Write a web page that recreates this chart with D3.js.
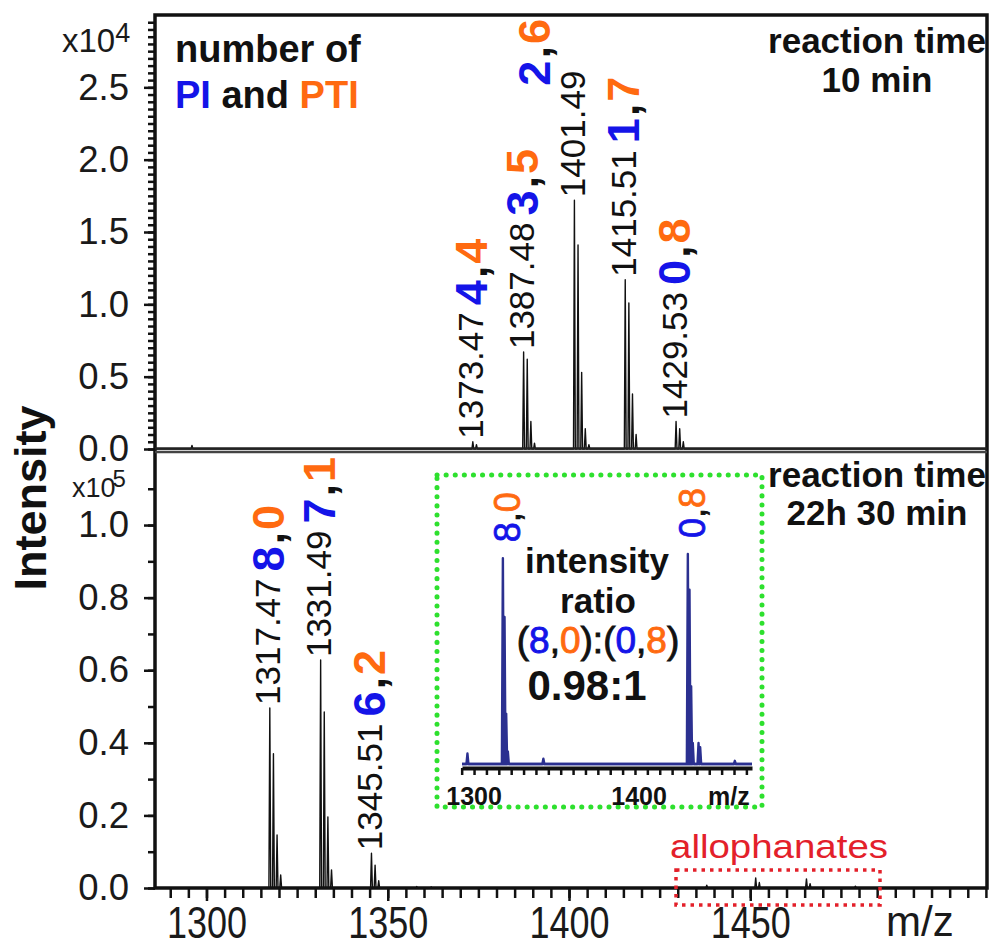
<!DOCTYPE html>
<html>
<head>
<meta charset="utf-8">
<script src="https://cdn.jsdelivr.net/npm/d3@7"></script>
<style>
    body { margin: 0; background: #fff; }
    svg { display: block; font-family: "Liberation Sans", Arial, Helvetica, sans-serif; }
</style>
</head>
<body>
<svg id="chart" width="992" height="947"></svg>
<script>

// sticks: [m/z, intensity]
// reaction time 10 min, intensity x10^4
const spectrum10min = [
    [1296.0, 0.025],
    [1373.47, 0.05], [1374.47, 0.03],
    [1387.48, 0.67], [1388.48, 0.62], [1389.48, 0.19], [1390.48, 0.04],
    [1401.49, 1.72], [1402.49, 1.41], [1403.49, 0.53], [1404.49, 0.14], [1405.49, 0.03],
    [1415.51, 1.17], [1416.51, 1.01], [1417.51, 0.38], [1418.51, 0.10],
    [1429.53, 0.19], [1430.53, 0.14], [1431.53, 0.05]
];

// reaction time 22h 30 min, intensity x10^5
const spectrum22h = [
    [1317.47, 0.496], [1318.47, 0.37], [1319.47, 0.146], [1320.47, 0.036],
    [1331.49, 0.628], [1332.49, 0.485], [1333.49, 0.196], [1334.49, 0.05],
    [1345.51, 0.096], [1346.51, 0.063], [1347.51, 0.02],
    [1358.0, 0.004], [1362.0, 0.003],
    [1438.0, 0.008], [1451.5, 0.028], [1452.5, 0.015],
    [1465.5, 0.025], [1466.5, 0.012], [1479.0, 0.005]
];

// inset, normalised to the (0,8) peak
const insetSpectrum = [
    [1296.0, 0.05],
    [1317.47, 0.98], [1318.47, 0.70], [1319.47, 0.24], [1320.47, 0.06],
    [1342.0, 0.025],
    [1429.53, 1.0], [1430.53, 0.83], [1431.53, 0.37], [1432.53, 0.10],
    [1436.0, 0.10], [1437.0, 0.08],
    [1458.0, 0.015]
];

const peaks10min = [
    {mz: 1373.47, pi: 4, pti: 4},
    {mz: 1387.48, pi: 3, pti: 5},
    {mz: 1401.49, pi: 2, pti: 6},
    {mz: 1415.51, pi: 1, pti: 7},
    {mz: 1429.53, pi: 0, pti: 8}
];
const peaks22h = [
    {mz: 1317.47, pi: 8, pti: 0},
    {mz: 1331.49, pi: 7, pti: 1},
    {mz: 1345.51, pi: 6, pti: 2}
];
const insetPeaks = [
    {mz: 1317.47, pi: 8, pti: 0},
    {mz: 1429.53, pi: 0, pti: 8}
];

const yTicksTop = [0, 0.5, 1.0, 1.5, 2.0, 2.5];
const yTicksBottom = [0, 0.2, 0.4, 0.6, 0.8, 1.0];
const xTicks = [1300, 1350, 1400, 1450];
const insetXTicks = [1300, 1400];

const BLUE = '#1414e8';
const ORANGE = '#ff6a10';
const INK = '#111';
const NAVY = '#2b3090';

const svg = d3.select('#chart');

const x = d3.scaleLinear().domain([1285.8, 1515.3]).range([155, 987]);
const yTop = d3.scaleLinear().domain([0, 3.0]).range([449, 15]);
const yBot = d3.scaleLinear().domain([0, 1.204]).range([888, 451]);

const xi = d3.scaleLinear().domain([1292.7, 1468.4]).range([462, 752]);
const yi = d3.scaleLinear().domain([0, 1]).range([764, 554]);

drawSpectrum(spectrum10min, x, yTop, 0.25, INK, 1.4);
drawSpectrum(spectrum22h, x, yBot, 0.25, INK, 1.4);
drawYAxis(yTop, yTicksTop, d3.range(0, 60).map(i => i * 0.05), d3.format('.1f'));
drawYAxis(yBot, yTicksBottom, d3.range(0, 12).map(i => i * 0.1), d3.format('.1f'));
drawXAxis();
drawFrame();
drawPeakLabels(peaks10min, spectrum10min, yTop);
drawPeakLabels(peaks22h, spectrum22h, yBot);
drawTexts();
drawInset();
drawAllophanates();


function stickPath (data, xs, ys, hw) {
    const dom = xs.domain();
    const pts = [[dom[0], 0]];
    data.slice().sort((a, b) => a[0] - b[0]).forEach(d => {
        pts.push([d[0] - hw, 0], [d[0], d[1]], [d[0] + hw, 0]);
    });
    pts.push([dom[1], 0]);
    return d3.line().x(p => xs(p[0])).y(p => ys(p[1]))(pts);
}

function drawSpectrum (data, xs, ys, hw, color, width) {
    svg.append('path')
        .attr('d', stickPath(data, xs, ys, hw))
        .attr('fill', 'none')
        .attr('stroke', color)
        .attr('stroke-width', width)
        .attr('stroke-linejoin', 'round');
}

function drawYAxis (ys, major, minor, fmt) {
    const top = ys.domain()[1];
    const minorAxis = d3.axisLeft(ys)
        .tickValues(minor.filter(v => v <= top))
        .tickSize(7)
        .tickFormat('');
    const gm = svg.append('g').attr('transform', 'translate(155,0)').call(minorAxis);
    gm.select('.domain').remove();
    gm.selectAll('line').attr('stroke', INK).attr('stroke-width', 2.5);

    const majorAxis = d3.axisLeft(ys)
        .tickValues(major)
        .tickSize(11)
        .tickPadding(15)
        .tickFormat(fmt);
    const g = svg.append('g').attr('transform', 'translate(155,0)').call(majorAxis);
    g.select('.domain').remove();
    g.selectAll('line').attr('stroke', INK).attr('stroke-width', 2.5);
    g.selectAll('text')
        .attr('font-size', 36.5)
        .attr('font-family', '"Liberation Sans", Arial, sans-serif')
        .attr('fill', '#1a1a1a');
}

function drawXAxis () {
    const minorAxis = d3.axisBottom(x)
        .tickValues(d3.range(1290, 1516, 5))
        .tickSize(10)
        .tickFormat('');
    const gm = svg.append('g').attr('transform', 'translate(0,888)').call(minorAxis);
    gm.select('.domain').remove();
    gm.selectAll('line').attr('stroke', INK).attr('stroke-width', 2.5);

    const majorAxis = d3.axisBottom(x)
        .tickValues(xTicks)
        .tickSize(13)
        .tickFormat(d3.format('d'));
    const g = svg.append('g').attr('transform', 'translate(0,888)').call(majorAxis);
    g.select('.domain').remove();
    g.selectAll('line').attr('stroke', INK).attr('stroke-width', 2.5);
    // the labels in the picture are drawn a little taller than wide
    g.selectAll('text')
        .attr('y', 0)
        .attr('dy', 0)
        .attr('transform', 'translate(0,50) scale(1,1.24)')
        .attr('font-size', 36)
        .attr('font-family', '"Liberation Sans", Arial, sans-serif')
        .attr('fill', '#1a1a1a');

    svg.append('text')
        .attr('x', 886).attr('y', 936)
        .attr('font-size', 42)
        .attr('fill', '#1a1a1a')
        .text('m/z');
}

function drawFrame () {
    svg.append('rect')
        .attr('x', 155).attr('y', 15)
        .attr('width', 832).attr('height', 873)
        .attr('fill', 'none')
        .attr('stroke', INK)
        .attr('stroke-width', 3.5);
    svg.append('line')
        .attr('x1', 155).attr('x2', 987)
        .attr('y1', 448.5).attr('y2', 448.5)
        .attr('stroke', '#222').attr('stroke-width', 2.5);
    svg.append('line')
        .attr('x1', 155).attr('x2', 987)
        .attr('y1', 452).attr('y2', 452)
        .attr('stroke', '#444').attr('stroke-width', 2.5);
}

function colouredPair (t, a, b) {
    t.append('tspan').attr('fill', BLUE).text(a);
    t.append('tspan').attr('fill', INK).text(',');
    t.append('tspan').attr('fill', ORANGE).text(b);
}

function drawPeakLabels (peaks, data, ys) {
    // the 2,6 tag is moved aside in the picture, it does not fit above its peak
    const nudge = {'1401.49': {dx: -38, dy: 22}};

    peaks.forEach(p => {
        const h = data.find(d => d[0] === p.mz)[1];
        const xp = x(p.mz) - 2;
        const base = ys(h) - 3;

        const t = svg.append('text')
            .attr('transform', `translate(${xp},${base}) rotate(-90)`)
            .attr('dominant-baseline', 'central')
            .attr('font-size', 35)
            .attr('fill', INK)
            .text(p.mz.toFixed(2));
        const len = t.node().getComputedTextLength();

        const n = nudge[p.mz.toFixed(2)] || {dx: 0, dy: 0};
        const c = svg.append('text')
            .attr('transform', `translate(${xp + n.dx},${base - len - 7 + n.dy}) rotate(-90)`)
            .attr('dominant-baseline', 'central')
            .attr('font-size', 45)
            .attr('font-weight', 'bold')
            .attr('letter-spacing', 2);
        colouredPair(c, p.pi, p.pti);
    });
}

function drawTexts () {
    svg.append('text')
        .attr('transform', 'translate(46,498) rotate(-90)')
        .attr('text-anchor', 'middle')
        .attr('font-size', 45)
        .attr('font-weight', 'bold')
        .attr('fill', INK)
        .text('Intensity');

    const e4 = svg.append('text')
        .attr('x', 62).attr('y', 52)
        .attr('font-size', 33)
        .attr('fill', '#1a1a1a');
    e4.append('tspan').text('x10');
    e4.append('tspan').attr('font-size', 27).attr('dy', -10).text('4');

    const e5 = svg.append('text')
        .attr('x', 72).attr('y', 497)
        .attr('font-size', 27)
        .attr('fill', '#1a1a1a');
    e5.append('tspan').text('x10');
    e5.append('tspan').attr('font-size', 24).attr('dx', -3).attr('dy', -10).text('5');

    svg.append('text')
        .attr('x', 175).attr('y', 62)
        .attr('font-size', 38)
        .attr('font-weight', 'bold')
        .attr('fill', INK)
        .text('number of');
    const leg = svg.append('text')
        .attr('x', 175).attr('y', 108)
        .attr('font-size', 38)
        .attr('font-weight', 'bold');
    leg.append('tspan').attr('fill', BLUE).text('PI');
    leg.append('tspan').attr('fill', INK).text(' and ');
    leg.append('tspan').attr('fill', ORANGE).text('PTI');

    [[53, 'reaction time'], [92, '10 min'], [487, 'reaction time'], [525, '22h 30 min']].forEach(r => {
        svg.append('text')
            .attr('x', 877).attr('y', r[0])
            .attr('text-anchor', 'middle')
            .attr('font-size', 35)
            .attr('font-weight', 'bold')
            .attr('fill', INK)
            .text(r[1]);
    });
}

function drawInset () {
    svg.append('rect')
        .attr('x', 437).attr('y', 475)
        .attr('width', 325).attr('height', 332)
        .attr('fill', 'none')
        .attr('stroke', '#2ee02e')
        .attr('stroke-width', 5)
        .attr('stroke-linecap', 'round')
        .attr('stroke-dasharray', '0.1 9');

    drawSpectrum(insetSpectrum, xi, yi, 0.6, NAVY, 2.4);
    svg.append('line')
        .attr('x1', xi.range()[0]).attr('x2', xi.range()[1])
        .attr('y1', yi(0)).attr('y2', yi(0))
        .attr('stroke', NAVY).attr('stroke-width', 2.5);

    const ax = d3.axisBottom(xi)
        .tickValues(d3.range(1292.5, 1468, 7.5))
        .tickSize(7)
        .tickSizeOuter(0)
        .tickFormat('');
    const g = svg.append('g').attr('transform', 'translate(0,768)').call(ax);
    g.select('.domain').attr('stroke', INK).attr('stroke-width', 4);
    g.selectAll('line').attr('stroke', INK).attr('stroke-width', 2.5);

    insetXTicks.forEach(v => {
        svg.append('text')
            .attr('x', xi(v)).attr('y', 805)
            .attr('text-anchor', 'middle')
            .attr('font-size', 25)
            .attr('font-weight', 'bold')
            .attr('fill', INK)
            .text(v);
    });
    svg.append('text')
        .attr('x', 708).attr('y', 805)
        .attr('font-size', 25)
        .attr('font-weight', 'bold')
        .attr('fill', INK)
        .text('m/z');

    insetPeaks.forEach(p => {
        const h = insetSpectrum.find(d => d[0] === p.mz)[1];
        const t = svg.append('text')
            .attr('transform', `translate(${xi(p.mz) + 4},${yi(h) - 16}) rotate(-90)`)
            .attr('dominant-baseline', 'central')
            .attr('font-size', 36)
            .attr('stroke-width', 0.8);
        colouredPair(t, p.pi, p.pti);
        t.selectAll('tspan').attr('stroke', function () { return d3.select(this).attr('fill'); });
    });

    svg.append('text')
        .attr('x', 597).attr('y', 573)
        .attr('text-anchor', 'middle')
        .attr('font-size', 35)
        .attr('font-weight', 'bold')
        .attr('fill', INK)
        .text('intensity');
    svg.append('text')
        .attr('x', 598).attr('y', 613)
        .attr('text-anchor', 'middle')
        .attr('font-size', 35)
        .attr('font-weight', 'bold')
        .attr('fill', INK)
        .text('ratio');

    const r = svg.append('text')
        .attr('x', 598).attr('y', 653)
        .attr('text-anchor', 'middle')
        .attr('font-size', 37)
        .attr('stroke', INK)
        .attr('stroke-width', 0.9)
        .attr('fill', INK);
    r.append('tspan').text('(');
    colouredPair(r, 8, 0);
    r.append('tspan').text('):(');
    colouredPair(r, 0, 8);
    r.append('tspan').text(')');
    r.selectAll('tspan').attr('stroke', function () { return d3.select(this).attr('fill') || INK; });

    svg.append('text')
        .attr('x', 587).attr('y', 700)
        .attr('text-anchor', 'middle')
        .attr('font-size', 42)
        .attr('font-weight', 'bold')
        .attr('fill', INK)
        .text('0.98:1');
}

function drawAllophanates () {
    svg.append('rect')
        .attr('x', 676).attr('y', 870)
        .attr('width', 204).attr('height', 35)
        .attr('fill', 'none')
        .attr('stroke', '#e3202a')
        .attr('stroke-width', 3.5)
        .attr('stroke-dasharray', '3.5 5');
    svg.append('text')
        .attr('x', 670).attr('y', 858)
        .attr('font-size', 34)
        .attr('textLength', 218)
        .attr('lengthAdjust', 'spacingAndGlyphs')
        .attr('fill', '#e3202a')
        .text('allophanates');
}
</script>
</body>
</html>
